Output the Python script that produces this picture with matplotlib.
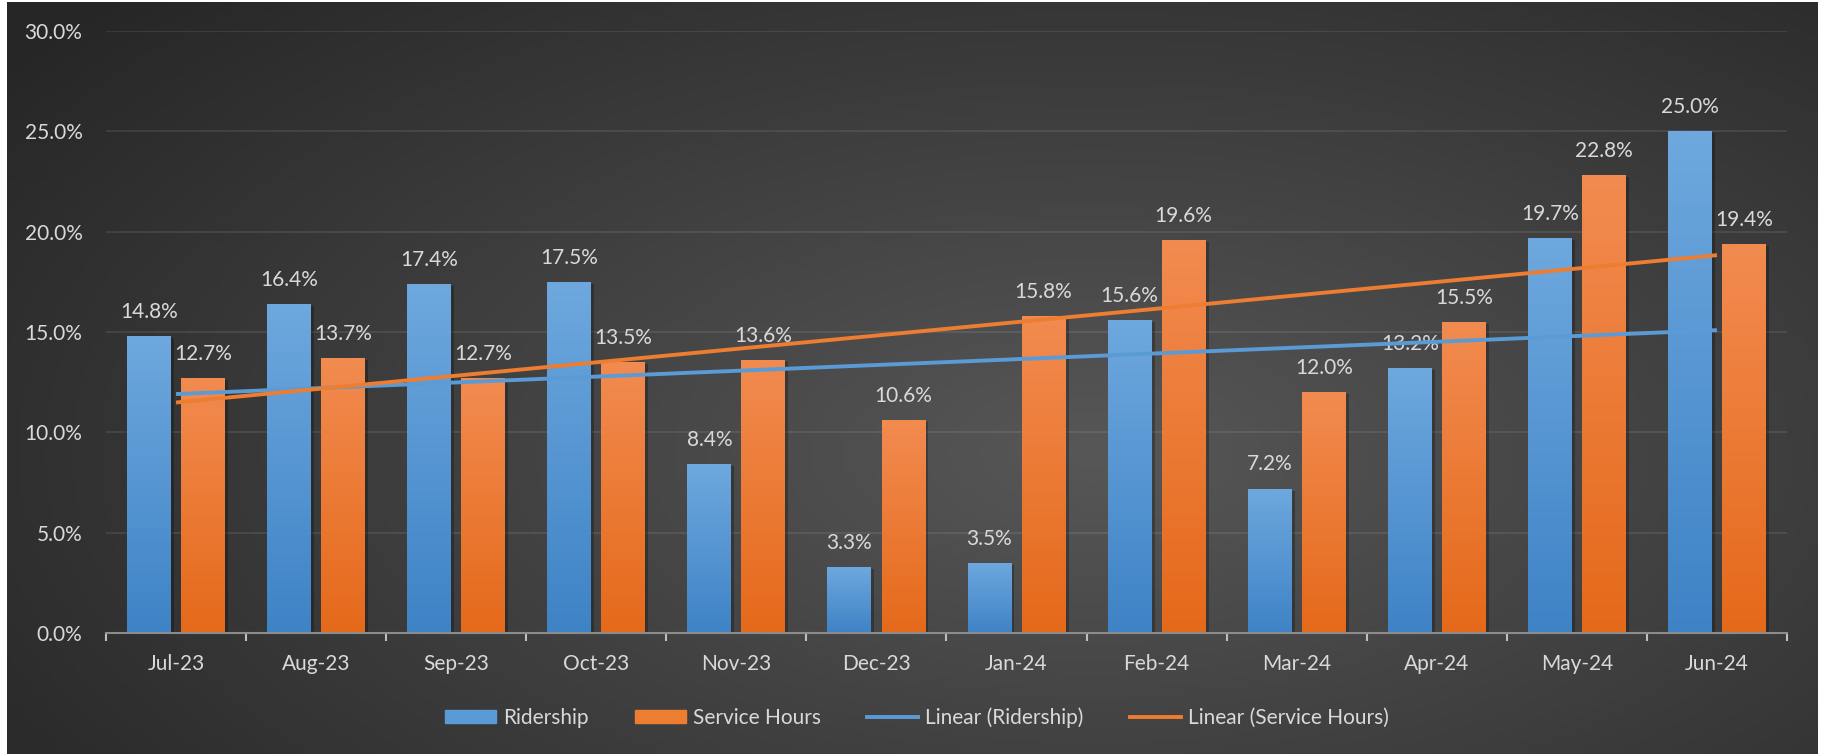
"""
Ridership vs service hours, monthly % change with linear trend lines
"""

import matplotlib.pyplot as plt
import matplotlib.patches as mpatches
from matplotlib.lines import Line2D
from matplotlib.colors import LinearSegmentedColormap
import matplotlib.transforms as mtransforms
import numpy as np

months = ['Jul-23', 'Aug-23', 'Sep-23', 'Oct-23', 'Nov-23', 'Dec-23',
          'Jan-24', 'Feb-24', 'Mar-24', 'Apr-24', 'May-24', 'Jun-24']
ridership = [14.8, 16.4, 17.4, 17.5, 8.4, 3.3, 3.5, 15.6, 7.2, 13.2, 19.7, 25.0]
service_hours = [12.7, 13.7, 12.7, 13.5, 13.6, 10.6, 15.8, 19.6, 12.0, 15.5, 22.8, 19.4]
y_ticks = [0, 5, 10, 15, 20, 25, 30]

COLORS = {
    'blue_top': '#6EA8DE',
    'blue_bot': '#3E83C6',
    'orange_top': '#F28B50',
    'orange_bot': '#E5691A',
    'blue_line': '#5B9BD5',
    'orange_line': '#ED7D31',
    'text': '#D9D9D9',
    'grid': '#FFFFFF',
}

W, H = 1825, 754
FONT = 'Lato'
FS = 15

fig = plt.figure(figsize=(W / 100, H / 100), dpi=100)
fig.patch.set_facecolor('white')

# radial dark background
bg = fig.add_axes([0, 0, 1, 1], zorder=-10)
bg.set_xlim(0, W)
bg.set_ylim(H, 0)
bg.axis('off')
gx, gy = np.meshgrid(np.linspace(0, 1, 400), np.linspace(0, 1, 200))
dist = np.sqrt(((gx - 0.6) / 0.75) ** 2 + ((gy - 0.6) / 0.9) ** 2)
dist = np.clip(dist, 0, 1)
bg_cmap = LinearSegmentedColormap.from_list('bg', ['#575757', '#262626'])
bg.imshow(dist, cmap=bg_cmap, extent=(7, 1818, H, 2), aspect='auto', vmin=0, vmax=1)

ax = fig.add_axes([106 / W, 1 - 633 / H, (1787 - 106) / W, (633 - 31) / H])
ax.set_facecolor('none')

x = np.arange(len(months))
width = 0.314
offset = 0.193

shadow = mtransforms.offset_copy(ax.transData, fig=fig, x=3, y=-2, units='dots')
ax.bar(x - offset, ridership, width, color='black', alpha=0.25, transform=shadow, zorder=1)
ax.bar(x + offset, service_hours, width, color='black', alpha=0.25, transform=shadow, zorder=1)

b1 = ax.bar(x - offset, ridership, width, color='none', zorder=2, label='Ridership')
b2 = ax.bar(x + offset, service_hours, width, color='none', zorder=2, label='Service Hours')

# vertical gradient fill, light at top
grad = np.linspace(0, 1, 256).reshape(-1, 1)
blue_cmap = LinearSegmentedColormap.from_list('b', [COLORS['blue_top'], COLORS['blue_bot']])
orange_cmap = LinearSegmentedColormap.from_list('o', [COLORS['orange_top'], COLORS['orange_bot']])
for bars, cmap in ((b1, blue_cmap), (b2, orange_cmap)):
    for bar in bars:
        bx, by = bar.get_x(), bar.get_y()
        bw, bh = bar.get_width(), bar.get_height()
        im = ax.imshow(grad, cmap=cmap, aspect='auto', zorder=2,
                       extent=(bx, bx + bw, by, by + bh))
        im.set_clip_path(bar)

# data labels
for bars, vals in ((b1, ridership), (b2, service_hours)):
    for bar, v in zip(bars, vals):
        ax.annotate(f'{v:.1f}%', (bar.get_x() + bar.get_width() / 2, bar.get_height()),
                    xytext=(0, 13), textcoords='offset points', ha='center', va='baseline',
                    fontsize=FS, color=COLORS['text'], family=FONT, zorder=3)

# linear trend lines
xt = x + 1
r_fit = np.polyfit(xt, ridership, 1)
s_fit = np.polyfit(xt, service_hours, 1)
ax.plot(x, np.polyval(r_fit, xt), color=COLORS['blue_line'], lw=2.8, zorder=4,
        solid_capstyle='butt')
ax.plot(x, np.polyval(s_fit, xt), color=COLORS['orange_line'], lw=2.8, zorder=4,
        solid_capstyle='butt')

ax.set_xlim(-0.5, len(months) - 0.5)
ax.set_ylim(0, 30)
ax.set_yticks(y_ticks)
ax.set_yticklabels([f'{t:.1f}%' for t in y_ticks])
ax.set_xticks(x)
ax.set_xticklabels(months)
ax.set_xticks(np.arange(-0.5, len(months), 1), minor=True)

ax.grid(axis='y', color=COLORS['grid'], alpha=0.1, lw=1.2, zorder=0)
ax.set_axisbelow(True)
for s in ('top', 'right', 'left'):
    ax.spines[s].set_visible(False)
ax.spines['bottom'].set_color('#8C8C8C')
ax.spines['bottom'].set_linewidth(1.5)
ax.spines['bottom'].set_zorder(5)

ax.tick_params(axis='y', length=0, pad=17, labelsize=FS, labelcolor=COLORS['text'])
ax.tick_params(axis='x', which='major', length=0, pad=15, labelsize=FS, labelcolor=COLORS['text'])
ax.tick_params(axis='x', which='minor', length=6, width=1.5, color='#BFBFBF', direction='out')
for lab in ax.get_xticklabels() + ax.get_yticklabels():
    lab.set_family(FONT)

handles = [
    mpatches.Patch(color=COLORS['blue_line']),
    mpatches.Patch(color=COLORS['orange_line']),
    Line2D([], [], color=COLORS['blue_line'], lw=2.8),
    Line2D([], [], color=COLORS['orange_line'], lw=2.8),
]
labels = ['Ridership', 'Service Hours', 'Linear (Ridership)', 'Linear (Service Hours)']
fig.legend(handles, labels, loc='center', bbox_to_anchor=(917 / W, 1 - 718 / H),
           ncol=4, frameon=False, handlelength=2.45, handleheight=0.58,
           handletextpad=0.35, columnspacing=2.2,
           prop={'family': FONT, 'size': FS}, labelcolor=COLORS['text'])

plt.savefig('out.png', dpi=100, facecolor='white')
plt.close()
